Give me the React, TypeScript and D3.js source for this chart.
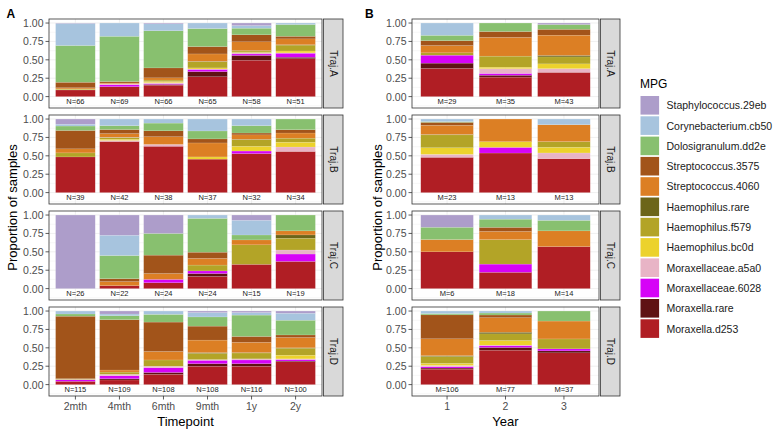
import * as d3 from 'd3';

// MPG categories, legend order (top of stack first)
const mpgNames = [
  'Staphylococcus.29eb',
  'Corynebacterium.cb50',
  'Dolosigranulum.dd2e',
  'Streptococcus.3575',
  'Streptococcus.4060',
  'Haemophilus.rare',
  'Haemophilus.f579',
  'Haemophilus.bc0d',
  'Moraxellaceae.a5a0',
  'Moraxellaceae.6028',
  'Moraxella.rare',
  'Moraxella.d253',
];
const mpgColors = [
  '#ad9dca', '#a7c4de', '#88c06f', '#a2541a', '#dc7f24', '#6c6519',
  '#b3a427', '#ecd22c', '#e8b4c6', '#d603f7', '#5f1213', '#b01e24',
];

const trajNames = ['Traj.A', 'Traj.B', 'Traj.C', 'Traj.D'];
const timepoints = ['2mth', '4mth', '6mth', '9mth', '1y', '2y'];
const years = ['1', '2', '3'];
const yTicks = [0, 0.25, 0.5, 0.75, 1];
const yMinor = [-0.125, 0.125, 0.375, 0.625, 0.875];

// proportions per bar, in mpgNames order
const timeA = [
  [0.005, 0.30, 0.50, 0.075, 0.015, 0, 0.01, 0.005, 0, 0, 0, 0.09],
  [0, 0.18, 0.615, 0.02, 0.01, 0, 0, 0, 0.015, 0.025, 0, 0.135],
  [0.01, 0.095, 0.505, 0.135, 0.03, 0, 0.02, 0.015, 0.015, 0.01, 0.01, 0.155],
  [0, 0.075, 0.245, 0.10, 0.10, 0.005, 0.085, 0.015, 0.005, 0.03, 0.07, 0.27],
  [0.035, 0.035, 0.09, 0.095, 0.12, 0.005, 0.02, 0.005, 0.015, 0.02, 0.065, 0.495],
  [0, 0.02, 0.16, 0.035, 0.08, 0.005, 0.08, 0.025, 0.005, 0.055, 0.02, 0.515],
];
const timeB = [
  [0.07, 0.025, 0.06, 0.25, 0.055, 0, 0.055, 0, 0, 0, 0, 0.485],
  [0, 0.09, 0.053, 0.055, 0.05, 0.007, 0.02, 0.015, 0.015, 0, 0, 0.695],
  [0, 0.055, 0.105, 0.08, 0.105, 0, 0, 0, 0.025, 0, 0, 0.63],
  [0, 0.162, 0.108, 0.055, 0.19, 0, 0, 0.03, 0, 0, 0, 0.455],
  [0, 0.09, 0.10, 0.025, 0.06, 0.005, 0.09, 0.065, 0, 0.035, 0, 0.53],
  [0, 0, 0.145, 0.045, 0.07, 0, 0.055, 0.065, 0.06, 0, 0, 0.56],
];
const timeC = [
  [1, 0, 0, 0, 0, 0, 0, 0, 0, 0, 0, 0],
  [0.275, 0.275, 0.315, 0.04, 0.055, 0, 0, 0, 0, 0, 0, 0.04],
  [0.25, 0, 0.295, 0.25, 0.08, 0, 0, 0, 0, 0.045, 0, 0.08],
  [0, 0.045, 0.46, 0.085, 0.09, 0, 0.08, 0, 0, 0.035, 0.04, 0.165],
  [0.071, 0.2, 0.067, 0, 0.067, 0, 0.265, 0, 0, 0, 0, 0.33],
  [0, 0, 0.215, 0, 0.055, 0.045, 0.16, 0, 0.055, 0.1, 0, 0.37],
];
const timeD = [
  [0, 0.04, 0.03, 0.85, 0, 0, 0.01, 0, 0.005, 0.02, 0, 0.045],
  [0.04, 0.023, 0.054, 0.685, 0.028, 0, 0.03, 0, 0.02, 0.04, 0.017, 0.063],
  [0, 0.045, 0.105, 0.40, 0.115, 0, 0.085, 0, 0.02, 0.065, 0.025, 0.14],
  [0.02, 0.06, 0.125, 0.19, 0.17, 0.01, 0.085, 0, 0.01, 0.045, 0.035, 0.25],
  [0.02, 0.035, 0.29, 0.08, 0.14, 0.005, 0.08, 0, 0.015, 0.05, 0.035, 0.25],
  [0.03, 0.095, 0.2, 0.035, 0.14, 0.005, 0.095, 0.05, 0.01, 0.02, 0.01, 0.31],
];
const yearA = [
  [0, 0.167, 0.072, 0.067, 0.099, 0, 0.032, 0, 0, 0.108, 0.072, 0.383],
  [0, 0, 0.115, 0.08, 0.255, 0, 0.15, 0.02, 0.065, 0.025, 0.025, 0.265],
  [0.02, 0, 0.065, 0.08, 0.275, 0.02, 0.095, 0.065, 0.05, 0, 0, 0.33],
];
const yearB = [
  [0, 0.035, 0.01, 0.04, 0.125, 0.005, 0.175, 0.09, 0.04, 0, 0, 0.48],
  [0, 0, 0, 0, 0.308, 0, 0, 0.077, 0, 0.077, 0, 0.538],
  [0, 0.077, 0, 0, 0.23, 0, 0.077, 0.077, 0.077, 0, 0, 0.462],
];
const yearC = [
  [0.166, 0, 0.167, 0, 0.167, 0, 0, 0, 0, 0, 0, 0.5],
  [0, 0.056, 0.111, 0.056, 0.111, 0, 0.333, 0, 0, 0.111, 0, 0.222],
  [0, 0.072, 0.143, 0, 0.214, 0, 0, 0, 0, 0, 0, 0.571],
];
const yearD = [
  [0, 0.034, 0.018, 0.325, 0.23, 0.01, 0.095, 0.027, 0.018, 0.018, 0.015, 0.21],
  [0, 0.027, 0.027, 0.036, 0.198, 0.022, 0.09, 0.064, 0.005, 0.026, 0.037, 0.468],
  [0, 0, 0.136, 0, 0.243, 0, 0.135, 0, 0, 0.027, 0.027, 0.432],
];

const timeN = [
  [66, 69, 66, 65, 58, 51],
  [39, 42, 38, 37, 32, 34],
  [26, 22, 24, 24, 15, 19],
  [115, 109, 108, 108, 116, 100],
];
const yearM = [
  [29, 35, 43],
  [23, 13, 13],
  [6, 18, 14],
  [106, 77, 37],
];

const FONT = '"Liberation Sans", Arial, Helvetica, sans-serif';
const rowTops = [19, 115, 211, 307];
const panelH = 89;

type PanelProps = {
  x0: number;
  x1: number;
  top: number;
  cats: string[];
  values: number[][];
  counts: number[];
  prefix: string;
  traj: string;
  bottom: boolean;
};

const Panel = ({ x0, x1, top, cats, values, counts, prefix, traj, bottom }: PanelProps) => {
  const x = d3.scaleBand<string>().domain(cats).range([x0, x1]).paddingInner(0.1).paddingOuter(0.15);
  const y = d3.scaleLinear().domain([-0.155, 1.055]).range([top + panelH, top]);

  const rows = values.map((v, i) => {
    const r: Record<string, any> = { cat: cats[i] };
    mpgNames.forEach((m, j) => (r[m] = v[j]));
    return r;
  });
  const keys = [...mpgNames].reverse();
  const series = d3.stack<Record<string, any>>().keys(keys)(rows);
  const colorOf = d3.scaleOrdinal<string, string>().domain(mpgNames).range(mpgColors);
  const bw = x.bandwidth();

  return (
    <g>
      <rect x={x0} y={top} width={x1 - x0} height={panelH} fill="#fff" />
      {yMinor.map(t => (
        <line key={'m' + t} x1={x0} x2={x1} y1={y(t)} y2={y(t)} stroke="#ebebeb" strokeWidth={0.4} />
      ))}
      {yTicks.map(t => (
        <line key={'g' + t} x1={x0} x2={x1} y1={y(t)} y2={y(t)} stroke="#ebebeb" strokeWidth={0.8} />
      ))}
      {cats.map(c => (
        <line key={'v' + c} x1={x(c)! + bw / 2} x2={x(c)! + bw / 2} y1={top} y2={top + panelH} stroke="#ebebeb" strokeWidth={0.8} />
      ))}
      {series.map(s =>
        s.map((d, i) => {
          const h = y(d[0]) - y(d[1]);
          if (h <= 0.01) return null;
          return (
            <rect
              key={s.key + i}
              x={x(cats[i])}
              y={y(d[1])}
              width={bw}
              height={h}
              fill={colorOf(s.key)}
              stroke="#ffffff"
              strokeOpacity={0.3}
              strokeWidth={0.4}
            />
          );
        })
      )}
      {cats.map((c, i) => (
        <text
          key={'n' + c}
          x={x(c)! + bw / 2}
          y={y(-0.062)}
          textAnchor="middle"
          dominantBaseline="central"
          fontSize={7.5}
          fill="#222"
        >
          {prefix + counts[i]}
        </text>
      ))}
      <rect x={x0} y={top} width={x1 - x0} height={panelH} fill="none" stroke="#333" strokeWidth={0.8} />
      {yTicks.map(t => (
        <g key={'t' + t}>
          <line x1={x0 - 3.5} x2={x0} y1={y(t)} y2={y(t)} stroke="#333" strokeWidth={0.8} />
          <text x={x0 - 5.5} y={y(t)} textAnchor="end" dominantBaseline="central" fontSize={10.5} fill="#4d4d4d">
            {d3.format('.2f')(t)}
          </text>
        </g>
      ))}
      {bottom &&
        cats.map(c => (
          <g key={'xt' + c}>
            <line x1={x(c)! + bw / 2} x2={x(c)! + bw / 2} y1={top + panelH} y2={top + panelH + 3.5} stroke="#333" strokeWidth={0.8} />
            <text x={x(c)! + bw / 2} y={top + panelH + 13.5} textAnchor="middle" fontSize={10.5} fill="#4d4d4d">
              {c}
            </text>
          </g>
        ))}
      <rect x={x1 + 1.5} y={top} width={19.5} height={panelH} fill="#d9d9d9" stroke="#333" strokeWidth={0.8} />
      <text
        transform={`translate(${x1 + 1.5 + 9.75},${top + panelH / 2}) rotate(90)`}
        textAnchor="middle"
        dominantBaseline="central"
        fontSize={10}
        fill="#1a1a1a"
      >
        {traj}
      </text>
    </g>
  );
};

const timeData = [timeA, timeB, timeC, timeD];
const yearData = [yearA, yearB, yearC, yearD];

const App = () => {
  const midY = (rowTops[0] + rowTops[3] + panelH) / 2;
  return (
    <svg width={774} height={429} style={{ position: 'absolute', left: 0, top: 0, fontFamily: FONT }}>
      <rect width={774} height={429} fill="#fff" />
      <text x={6.5} y={18.3} fontSize={12} fontWeight="bold" fill="#000">A</text>
      <text x={365} y={18.3} fontSize={12} fontWeight="bold" fill="#000">B</text>

      {trajNames.map((t, i) => (
        <Panel
          key={'a' + t}
          x0={49}
          x1={322}
          top={rowTops[i]}
          cats={timepoints}
          values={timeData[i]}
          counts={timeN[i]}
          prefix="N="
          traj={t}
          bottom={i === 3}
        />
      ))}
      {trajNames.map((t, i) => (
        <Panel
          key={'b' + t}
          x0={412}
          x1={599}
          top={rowTops[i]}
          cats={years}
          values={yearData[i]}
          counts={yearM[i]}
          prefix="M="
          traj={t}
          bottom={i === 3}
        />
      ))}

      <text transform={`translate(17,${midY}) rotate(-90)`} textAnchor="middle" fontSize={13} fill="#000">
        Proportion of samples
      </text>
      <text transform={`translate(381.5,${midY}) rotate(-90)`} textAnchor="middle" fontSize={13} fill="#000">
        Proportion of samples
      </text>
      <text x={185.5} y={426} textAnchor="middle" fontSize={13} fill="#000">Timepoint</text>
      <text x={505.5} y={426} textAnchor="middle" fontSize={13} fill="#000">Year</text>

      <g>
        <text x={640} y={87.5} fontSize={12} fill="#000">MPG</text>
        {mpgNames.map((m, i) => (
          <g key={m} transform={`translate(640.5,${96 + i * 20.3})`}>
            <rect width={18.6} height={18.6} fill={mpgColors[i]} />
            <text x={26} y={9.3} dominantBaseline="central" fontSize={10.5} fill="#1a1a1a">
              {m}
            </text>
          </g>
        ))}
      </g>
    </svg>
  );
};

export default App;
